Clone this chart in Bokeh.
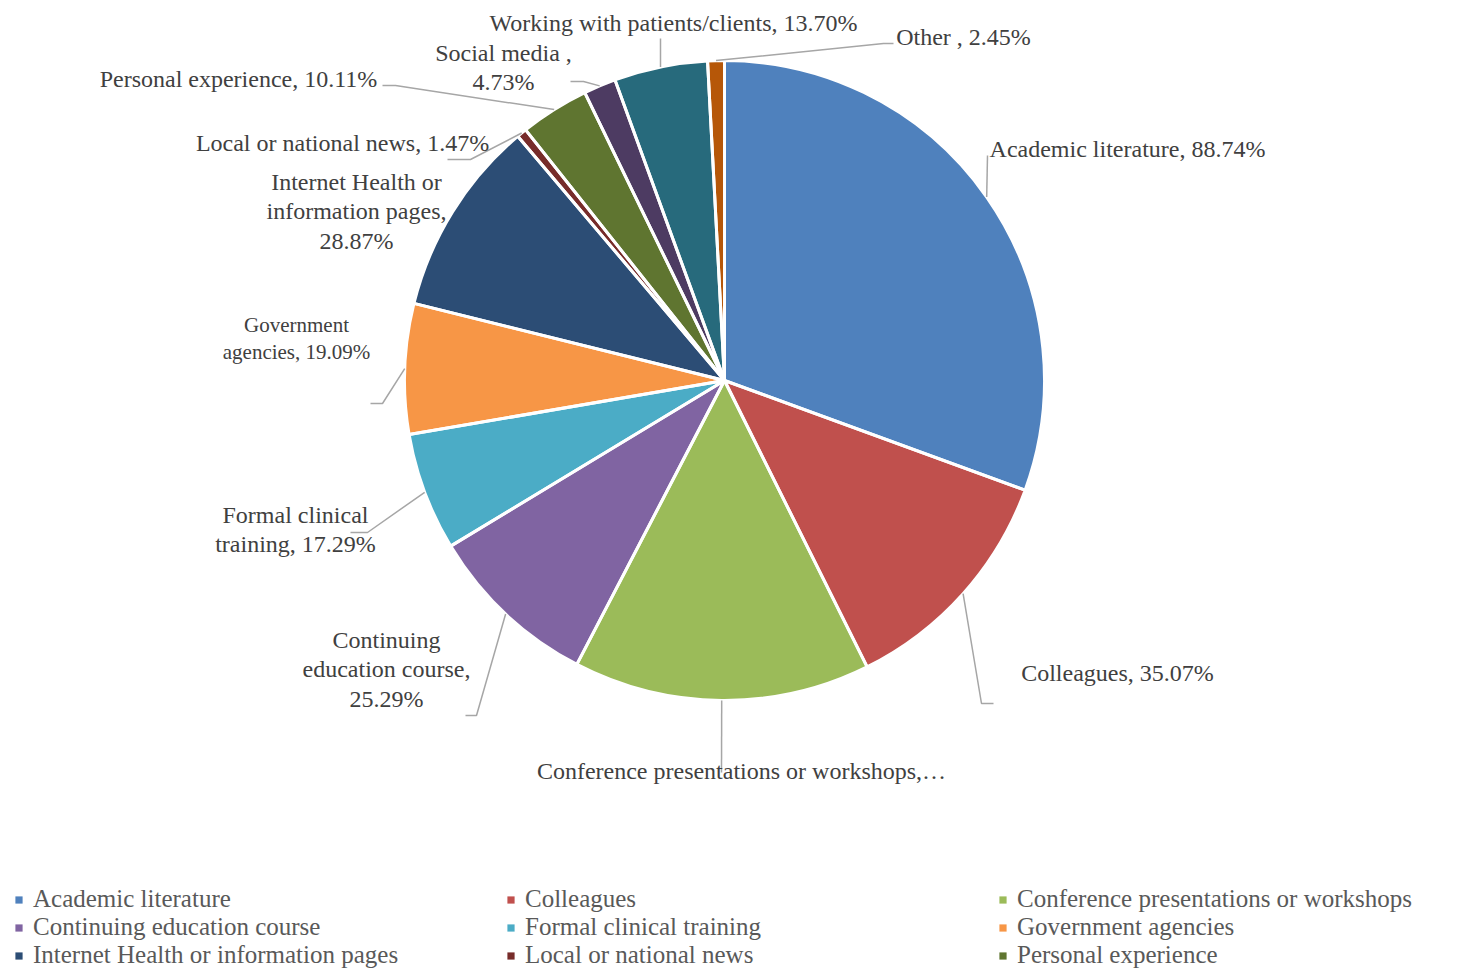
import math
from bokeh.plotting import figure
from bokeh.models import Range1d, ColumnDataSource, Legend, LegendItem
from bokeh.core.properties import value
from bokeh.embed import file_html
from bokeh.resources import INLINE

# ---------------- data ----------------
categories = [
    "Academic literature", "Colleagues", "Conference presentations or workshops",
    "Continuing education course", "Formal clinical training", "Government agencies",
    "Internet Health or information pages", "Local or national news",
    "Personal experience", "Social media", "Working with patients/clients", "Other",
]
values = [88.74, 35.07, 43.50, 25.29, 17.29, 19.09, 28.87, 1.47, 10.11, 4.73, 13.70, 2.45]
label_texts = [
    "Academic literature, 88.74%",
    "Colleagues, 35.07%",
    "Conference presentations or workshops,\u2026",
    "Continuing\neducation course,\n25.29%",
    "Formal clinical\ntraining, 17.29%",
    "Government\nagencies, 19.09%",
    "Internet Health or\ninformation pages,\n28.87%",
    "Local or national news, 1.47%",
    "Personal experience, 10.11%",
    "Social media ,\n4.73%",
    "Working with patients/clients, 13.70%",
    "Other , 2.45%",
]
colors = ["#4F81BD", "#C0504D", "#9BBB59", "#8064A2", "#4BACC6", "#F79646",
          "#2C4D75", "#772C2A", "#5F7530", "#4D3B62", "#276A7C", "#B65708"]

# ---------------- layout (screen px) ----------------
CX, CY, R = 724, 380, 320
label_pos = [(1127, 148), (1117, 672), (741, 770), (386, 669), (295, 529), (296, 338),
             (356, 211), (342, 142), (238, 78), (503, 67), (673, 22), (963, 36)]
label_sizes = ["24px"] * 12
label_sizes[5] = "21px"
elbows = [
    [(987, 155)],
    [(981, 703), (993, 703)],
    [(721, 772)],
    [(476, 715), (465, 715)],
    [(367, 532), (350, 532)],
    [(382, 403), (370, 403)],
    [],
    [(470, 159), (447, 159)],
    [(395, 85), (382, 85)],
    [(583, 81), (570, 81)],
    [(660, 38)],
    [(883, 43), (893, 43)],
]

W, H = 1451, 969
p = figure(width=W, height=H, output_backend="svg", toolbar_location=None,
           x_range=Range1d(0, W), y_range=Range1d(-H, 0),
           min_border=0, x_axis_location=None, y_axis_location=None)
p.grid.visible = False
p.outline_line_color = None
p.background_fill_color = "white"
p.border_fill_color = "white"

total = sum(values)
starts, ends, mids = [], [], []
acc = 0.0
for v in values:
    f0 = acc / total
    acc += v
    f1 = acc / total
    starts.append(math.pi / 2 - 2 * math.pi * f0)
    ends.append(math.pi / 2 - 2 * math.pi * f1)
    mids.append(math.pi / 2 - 2 * math.pi * (f0 + f1) / 2)

src = ColumnDataSource(dict(
    cat=categories, val=values, color=colors, start=starts, end=ends,
    x=[CX] * len(values), y=[-CY] * len(values)))

wr = p.wedge(x="x", y="y", radius=R, start_angle="start", end_angle="end",
             direction="clock", fill_color="color", line_color=None, source=src)
p.wedge(x="x", y="y", radius=R, start_angle="start", end_angle="end",
        direction="clock", fill_alpha=0, line_color="white", line_width=3, source=src)

# leader lines
xs, ys = [], []
for m, el in zip(mids, elbows):
    if not el:
        continue
    px = CX + R * math.cos(m)
    py = -CY + R * math.sin(m)
    xs.append([px] + [e[0] for e in el])
    ys.append([py] + [-e[1] for e in el])
p.multi_line(xs=xs, ys=ys, line_color="#A6A6A6", line_width=1.5)

lsrc = ColumnDataSource(dict(
    x=[lp[0] for lp in label_pos], y=[-lp[1] for lp in label_pos],
    text=label_texts, fs=label_sizes))
p.text(x="x", y="y", text="text", source=lsrc, text_font=value("Liberation Serif"),
       text_font_size="fs", text_color="#404040", text_align="center",
       text_baseline="middle", text_line_height=1.15)

items = [LegendItem(label=categories[i], renderers=[wr], index=i) for i in range(9)]
legend = Legend(items=items, orientation="horizontal", ncols=3, location=(14, 0),
                label_text_font="Liberation Serif", label_text_font_size="25px",
                label_text_color="#595959", glyph_width=9, glyph_height=9,
                label_standoff=10, label_width=473, label_height=27, spacing=0,
                padding=0, margin=0, border_line_color=None, background_fill_alpha=0)
p.add_layout(legend)

open("out.html", "w").write(file_html(p, INLINE))
